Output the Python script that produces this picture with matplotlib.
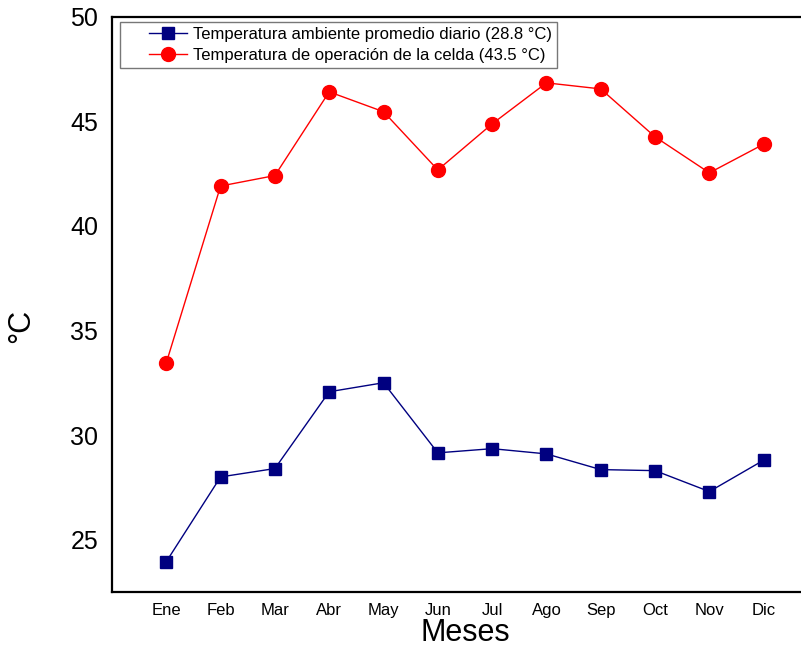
import matplotlib
matplotlib.use("Agg")
import numpy as np
import matplotlib.pyplot as plt
from matplotlib.legend_handler import HandlerLine2D

plt.rcParams['font.family'] = ['Liberation Sans', 'DejaVu Sans']

months = ["Ene", "Feb", "Mar", "Abr", "May", "Jun", "Jul", "Ago", "Sep", "Oct", "Nov", "Dic"]
ambient = [23.95, 28.0, 28.4, 32.07, 32.5, 29.15, 29.35, 29.1, 28.35, 28.3, 27.3, 28.8]
cell = [33.45, 41.9, 42.4, 46.4, 45.45, 42.67, 44.87, 46.83, 46.54, 44.25, 42.53, 43.9]
label_ambient = "Temperatura ambiente promedio diario (28.8 °C)"
label_cell = "Temperatura de operación de la celda (43.5 °C)"
yticks = [25, 30, 35, 40, 45, 50]


class IndentedLine(HandlerLine2D):
    """Legend line handle with empty space before the line sample."""

    def __init__(self, indent=0.4, **kw):
        super().__init__(**kw)
        self.indent = indent

    def get_xdata(self, legend, xdescent, ydescent, width, height, fontsize):
        start = -xdescent + self.indent * width
        xdata = np.linspace(start, -xdescent + width, 2)
        xdata_marker = np.array([0.5 * (xdata[0] + xdata[-1])])
        return xdata, xdata_marker


fig = plt.figure(figsize=(8.01, 6.5), dpi=100)
ax = fig.add_axes([0.1398, 0.0892, 0.8814, 0.8854])

x = list(range(1, len(months) + 1))
l1, = ax.plot(x, ambient, color="#000080", marker="s", markersize=9, linewidth=1.0,
              label=label_ambient)
l2, = ax.plot(x, cell, color="#ff0000", marker="o", markersize=10, linewidth=1.0,
              label=label_cell)

ax.set_xlim(0, 13)
ax.set_ylim(22.5, 50)
ax.set_xticks(x)
ax.set_xticklabels(months)
ax.set_yticks(yticks)
ax.tick_params(axis="x", length=0, pad=8, labelsize=12)
ax.tick_params(axis="y", length=0, pad=10, labelsize=18)
for sp in ax.spines.values():
    sp.set_linewidth(1.6)

ax.set_xlabel("Meses", fontsize=22, labelpad=0)
ax.set_ylabel("°C", fontsize=22)
ax.yaxis.set_label_coords(-0.108, 0.463)

handler = IndentedLine(indent=0.387)
leg = ax.legend(loc="upper left", bbox_to_anchor=(0.0113, 0.991), fontsize=12,
                frameon=True, fancybox=False, edgecolor="#555555",
                borderpad=0.3, labelspacing=0.38, handlelength=3.72,
                borderaxespad=0.0, handletextpad=0.36,
                handler_map={l1: handler, l2: handler})
leg.get_frame().set_linewidth(1.0)

fig.savefig("out.png", dpi=100)
